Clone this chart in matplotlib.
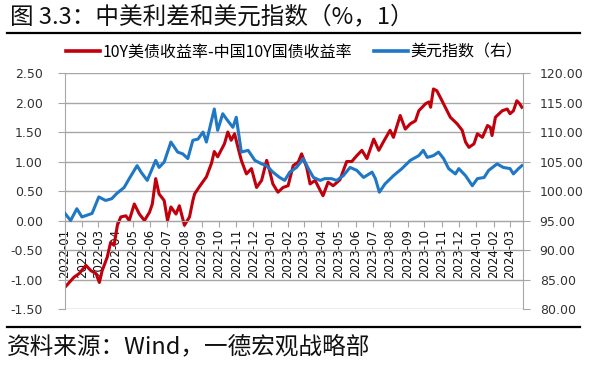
import pandas as pd
import matplotlib.pyplot as plt
import matplotlib.dates as mdates
from matplotlib.lines import Line2D

# 10Y US treasury yield minus China 10Y yield (%), left axis
spread_dates = [
    "2022-01-01", "2022-01-17", "2022-01-26", "2022-02-07", "2022-02-16", "2022-02-25",
    "2022-03-03", "2022-03-08", "2022-03-17", "2022-03-23", "2022-03-29", "2022-04-04",
    "2022-04-10", "2022-04-19", "2022-04-25", "2022-05-04", "2022-05-13", "2022-05-22",
    "2022-05-31", "2022-06-05", "2022-06-11", "2022-06-17", "2022-06-26", "2022-07-02",
    "2022-07-08", "2022-07-17", "2022-07-23", "2022-08-01", "2022-08-10", "2022-08-16",
    "2022-08-19", "2022-08-28", "2022-09-09", "2022-09-18", "2022-09-23", "2022-09-29",
    "2022-10-11", "2022-10-17", "2022-10-23", "2022-10-29", "2022-11-04", "2022-11-10",
    "2022-11-19", "2022-11-28", "2022-12-07", "2022-12-16", "2022-12-25", "2022-12-30",
    "2023-01-05", "2023-01-14", "2023-01-23", "2023-02-01", "2023-02-10", "2023-02-19",
    "2023-02-25", "2023-03-06", "2023-03-12", "2023-03-21", "2023-03-30", "2023-04-04",
    "2023-04-13", "2023-04-22", "2023-05-04", "2023-05-16", "2023-05-25", "2023-06-03",
    "2023-06-12", "2023-06-21", "2023-07-03", "2023-07-12", "2023-07-20", "2023-08-01",
    "2023-08-07", "2023-08-19", "2023-08-28", "2023-09-06", "2023-09-15", "2023-09-21",
    "2023-10-03", "2023-10-09", "2023-10-12", "2023-10-17", "2023-10-23", "2023-10-29",
    "2023-11-07", "2023-11-16", "2023-11-28", "2023-12-07", "2023-12-13", "2023-12-19",
    "2023-12-28", "2024-01-03", "2024-01-12", "2024-01-21", "2024-01-26", "2024-01-29",
    "2024-02-04", "2024-02-16", "2024-02-25", "2024-03-01", "2024-03-07", "2024-03-13",
    "2024-03-18", "2024-03-22",
]
spread = [
    -1.13, -0.96, -0.90, -0.76, -0.85, -0.90,
    -1.05, -0.85, -0.62, -0.37, -0.42, -0.08,
    0.06, 0.08, 0.00, 0.28, 0.11, 0.00,
    0.14, 0.28, 0.71, 0.45, 0.34, 0.00,
    0.23, 0.11, 0.25, -0.08, 0.06, 0.34,
    0.45, 0.58, 0.74, 0.97, 1.17, 1.08,
    1.30, 1.50, 1.36, 1.47, 1.24, 1.02,
    0.79, 0.88, 0.56, 0.68, 1.02, 0.85,
    0.62, 0.48, 0.56, 0.59, 0.93, 0.99,
    1.13, 0.90, 0.62, 0.68, 0.51, 0.42,
    0.65, 0.59, 0.69, 1.00, 1.00, 1.10,
    1.19, 1.05, 1.38, 1.19, 1.33, 1.53,
    1.41, 1.78, 1.55, 1.64, 1.69, 1.86,
    1.98, 2.01, 1.92, 2.23, 2.20, 2.09,
    1.92, 1.75, 1.64, 1.53, 1.33, 1.24,
    1.30, 1.47, 1.41, 1.61, 1.58, 1.44,
    1.75, 1.86, 1.89, 1.81, 1.86, 2.03,
    1.98, 1.92,
]

# US dollar index, right axis
dxy_dates = [
    "2022-01-01", "2022-01-11", "2022-01-22", "2022-01-31", "2022-02-18", "2022-03-02",
    "2022-03-14", "2022-03-25", "2022-04-03", "2022-04-16", "2022-04-25", "2022-05-09",
    "2022-05-16", "2022-05-27", "2022-06-11", "2022-06-17", "2022-06-26", "2022-07-08",
    "2022-07-20", "2022-07-29", "2022-08-07", "2022-08-16", "2022-08-25", "2022-09-03",
    "2022-09-09", "2022-09-23", "2022-09-29", "2022-10-08", "2022-10-17", "2022-10-26",
    "2022-11-01", "2022-11-10", "2022-11-22", "2022-12-04", "2022-12-16", "2022-12-25",
    "2023-01-05", "2023-01-17", "2023-01-26", "2023-02-04", "2023-02-16", "2023-02-28",
    "2023-03-09", "2023-03-18", "2023-03-30", "2023-04-07", "2023-04-19", "2023-04-28",
    "2023-05-10", "2023-05-22", "2023-06-03", "2023-06-15", "2023-06-30", "2023-07-06",
    "2023-07-13", "2023-07-23", "2023-08-07", "2023-08-22", "2023-09-06", "2023-09-21",
    "2023-09-29", "2023-10-06", "2023-10-17", "2023-10-26", "2023-11-04", "2023-11-13",
    "2023-11-25", "2023-12-01", "2023-12-13", "2023-12-25", "2024-01-03", "2024-01-15",
    "2024-01-23", "2024-02-07", "2024-02-18", "2024-03-01", "2024-03-07", "2024-03-16",
    "2024-03-22",
]
dxy = [
    96.2, 95.0, 97.0, 95.6, 96.2, 99.0,
    98.4, 98.7, 99.6, 100.6, 102.1, 104.3,
    103.2, 101.8, 105.2, 104.0, 104.9, 108.3,
    106.6, 106.3, 105.5, 108.6, 108.8, 110.0,
    108.3, 113.9, 110.3, 113.1, 111.9, 110.8,
    112.5, 106.6, 106.9, 105.2, 104.6, 104.3,
    103.2, 102.3, 101.8, 103.2, 104.0, 105.5,
    103.8, 102.3, 101.8, 102.1, 102.1, 101.8,
    102.6, 104.0, 103.5, 102.3, 103.2, 102.1,
    99.8, 101.2, 102.6, 103.8, 105.2, 106.0,
    106.9, 105.7, 106.0, 106.6, 105.5, 103.8,
    102.9, 103.8, 102.6, 100.9, 102.1, 102.3,
    103.5, 104.6, 104.0, 103.8, 102.9, 103.8,
    104.3,
]

left_ticks = [-1.5, -1.0, -0.5, 0.0, 0.5, 1.0, 1.5, 2.0, 2.5]
right_ticks = [80, 85, 90, 95, 100, 105, 110, 115, 120]

title = "图 3.3：中美利差和美元指数（%，1）"
source = "资料来源：Wind，一德宏观战略部"
label_spread = "10Y美债收益率-中国10Y国债收益率"
label_dxy = "美元指数（右）"

RED = "#C0000C"
BLUE = "#1F77C6"
GRID = "#A6A6A6"
CJK = ["Noto Sans CJK SC", "DejaVu Sans"]

plt.rcParams["font.family"] = ["DejaVu Sans", "Noto Sans CJK SC"]

fig = plt.figure(figsize=(5.98, 3.67), dpi=100)
ax = fig.add_axes([0.1087, 0.158, 0.7659, 0.643])
ax2 = ax.twinx()

ax.plot(pd.to_datetime(spread_dates), spread, color=RED, lw=2.2, solid_joinstyle="round")
ax2.plot(pd.to_datetime(dxy_dates), dxy, color=BLUE, lw=2.2, solid_joinstyle="round")

ax.set_ylim(-1.5, 2.5)
ax.set_yticks(left_ticks)
ax.set_yticklabels([f"{v:.2f}" for v in left_ticks])
ax2.set_ylim(80, 120)
ax2.set_yticks(right_ticks)
ax2.set_yticklabels([f"{v:.2f}" for v in right_ticks])

ax.set_xlim(pd.Timestamp("2022-01-01"), pd.Timestamp("2024-03-24"))
ax.xaxis.set_major_locator(mdates.MonthLocator())
ax.xaxis.set_major_formatter(mdates.DateFormatter("%Y-%m"))

ax.grid(axis="y", color=GRID, lw=1.0)
ax.set_axisbelow(True)

ax.spines["bottom"].set_position(("data", 0))
ax.spines["bottom"].set_color(GRID)
ax.spines["top"].set_visible(False)
ax.spines["left"].set_color(GRID)
ax.spines["right"].set_visible(False)
for s in ["top", "bottom", "left"]:
    ax2.spines[s].set_visible(False)
ax2.spines["right"].set_color(GRID)

ax.tick_params(axis="y", colors=GRID, labelcolor="#333333", labelsize=9, length=5, pad=11)
ax2.tick_params(axis="y", colors=GRID, labelcolor="#333333", labelsize=9, length=5, pad=7)
ax.tick_params(axis="x", colors=GRID, labelcolor="#111111", labelsize=8.5, length=4,
               pad=2, labelrotation=90)

handles = [Line2D([], [], color=RED, lw=2.6), Line2D([], [], color=BLUE, lw=2.6)]
fig.legend(handles, [label_spread, label_dxy], loc="center", ncol=2,
           bbox_to_anchor=(0.492, 0.858), frameon=False,
           prop={"family": CJK, "size": 11.5}, handlelength=2.1,
           handletextpad=0.15, columnspacing=1.4)

fig.text(0.0167, 0.955, title, fontsize=17, family=CJK, va="center", ha="left", color="#111111")
fig.text(0.0117, 0.0545, source, fontsize=17, family=CJK, va="center", ha="left", color="#111111")
fig.add_artist(Line2D([0.0117, 0.970], [0.910, 0.910], color="black", lw=1.6))
fig.add_artist(Line2D([0.0117, 0.970], [0.109, 0.109], color="black", lw=1.6))

fig.savefig("out.png", dpi=100)
